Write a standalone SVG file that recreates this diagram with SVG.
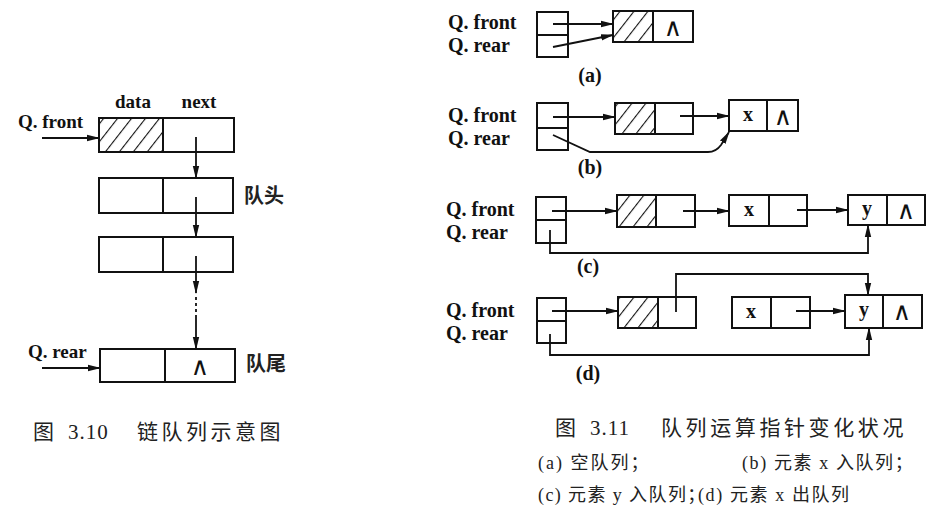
<svg xmlns="http://www.w3.org/2000/svg" width="938" height="525" viewBox="0 0 938 525">
<defs>
<pattern id="hatch" patternUnits="userSpaceOnUse" width="11" height="11" patternTransform="rotate(38)">
<line x1="0" y1="0" x2="0" y2="11" stroke="#111" stroke-width="2.2"/>
</pattern>
<marker id="arr" markerUnits="userSpaceOnUse" markerWidth="13" markerHeight="8" refX="12" refY="4" orient="auto">
<path d="M0,0.8 L13,4 L0,7.2 z" fill="#111"/>
</marker>
<style>
.box{fill:#fff;stroke:#111;stroke-width:2}
.hat{fill:url(#hatch);stroke:#111;stroke-width:2}
.ln{fill:none;stroke:#111;stroke-width:1.8}
.dv{stroke:#111;stroke-width:2}
.lab{font-family:"Liberation Serif",serif;font-weight:bold;fill:#111}
.sym{font-family:"DejaVu Sans",sans-serif;fill:#111}
.cjk{font-family:"Liberation Serif","Noto Sans CJK SC",sans-serif;fill:#222}
</style>
</defs>
<rect width="938" height="525" fill="#fff"/>

<!-- Figure 3.10 -->
<g id="fig310-labels">
<text class="lab" x="133" y="108" font-size="19" text-anchor="middle">data</text>
<text class="lab" x="199" y="108" font-size="19" text-anchor="middle">next</text>
<text class="lab" x="18" y="128" font-size="19">Q. front</text>
<text class="lab" x="28" y="358" font-size="19">Q. rear</text>
<text class="cjk" x="244" y="203" font-size="20" font-weight="bold">队头</text>
<text class="cjk" x="246" y="371" font-size="20" font-weight="bold">队尾</text>
</g>
<g id="l-node1">
<rect class="box" x="99" y="118" width="135" height="34"/>
<rect class="hat" x="99" y="118" width="64" height="34"/>
</g>
<g id="l-node2">
<rect class="box" x="99" y="178" width="134" height="35"/>
<line class="dv" x1="163" y1="178" x2="163" y2="213"/>
</g>
<g id="l-node3">
<rect class="box" x="99" y="237" width="134" height="35"/>
<line class="dv" x1="163" y1="237" x2="163" y2="272"/>
</g>
<g id="l-node4">
<rect class="box" x="100" y="349" width="135" height="33"/>
<line class="dv" x1="165" y1="349" x2="165" y2="382"/>
<text class="sym" x="200" y="375" font-size="25" text-anchor="middle">∧</text>
</g>
<g id="l-connectors">
<line class="ln" x1="42" y1="138" x2="99" y2="138" marker-end="url(#arr)"/>
<line class="ln" x1="42" y1="368" x2="100" y2="368" marker-end="url(#arr)"/>
<line class="ln" x1="196" y1="137" x2="196" y2="178" marker-end="url(#arr)"/>
<line class="ln" x1="196" y1="197" x2="196" y2="237" marker-end="url(#arr)"/>
<line class="ln" x1="196" y1="256" x2="196" y2="293" marker-end="url(#arr)"/>
<line class="ln" x1="196" y1="297" x2="196" y2="318" stroke-dasharray="3,3"/>
<line class="ln" x1="196" y1="318" x2="196" y2="349" marker-end="url(#arr)"/>
</g>
<g id="cap310">
<text class="cjk" x="33" y="439" font-size="21">图</text>
<text class="cjk" x="68" y="439" font-size="21" letter-spacing="1">3.10</text>
<text class="cjk" x="137" y="439" font-size="21" letter-spacing="3.5">链队列示意图</text>
</g>

<!-- Figure 3.11 labels -->
<g id="fig311-labels">
<text class="lab" x="448" y="29" font-size="20">Q. front</text>
<text class="lab" x="448" y="52" font-size="20">Q. rear</text>
<text class="lab" x="590" y="82" font-size="20" text-anchor="middle">(a)</text>
<text class="lab" x="448" y="122" font-size="20">Q. front</text>
<text class="lab" x="448" y="145" font-size="20">Q. rear</text>
<text class="lab" x="590" y="174" font-size="20" text-anchor="middle">(b)</text>
<text class="lab" x="446" y="216" font-size="20">Q. front</text>
<text class="lab" x="446" y="239" font-size="20">Q. rear</text>
<text class="lab" x="588" y="273" font-size="20" text-anchor="middle">(c)</text>
<text class="lab" x="446" y="317" font-size="20">Q. front</text>
<text class="lab" x="446" y="340" font-size="20">Q. rear</text>
<text class="lab" x="588" y="380" font-size="20" text-anchor="middle">(d)</text>
</g>

<!-- (a) -->
<g id="a-ptr">
<rect class="box" x="537" y="12" width="31" height="45"/>
<line class="dv" x1="537" y1="35" x2="568" y2="35"/>
</g>
<g id="a-head">
<rect class="box" x="613" y="11" width="80" height="31"/>
<rect class="hat" x="613" y="11" width="40" height="31"/>
<text class="sym" x="673" y="36" font-size="25" text-anchor="middle">∧</text>
</g>

<!-- (b) -->
<g id="b-ptr">
<rect class="box" x="537" y="103" width="31" height="47"/>
<line class="dv" x1="537" y1="128" x2="568" y2="128"/>
</g>
<g id="b-head">
<rect class="box" x="615" y="103" width="78" height="31"/>
<rect class="hat" x="615" y="103" width="40" height="31"/>
</g>
<g id="b-x">
<rect class="box" x="729" y="100" width="69" height="31"/>
<line class="dv" x1="767" y1="100" x2="767" y2="131"/>
<text class="lab" x="748" y="121" font-size="20" text-anchor="middle">x</text>
<text class="sym" x="783" y="125" font-size="25" text-anchor="middle">∧</text>
</g>

<!-- (c) -->
<g id="c-ptr">
<rect class="box" x="536" y="197" width="30" height="46"/>
<line class="dv" x1="536" y1="220" x2="566" y2="220"/>
</g>
<g id="c-head">
<rect class="box" x="617" y="195" width="78" height="32"/>
<rect class="hat" x="617" y="195" width="39" height="32"/>
</g>
<g id="c-x">
<rect class="box" x="729" y="195" width="78" height="31"/>
<line class="dv" x1="769" y1="195" x2="769" y2="226"/>
<text class="lab" x="749" y="216" font-size="20" text-anchor="middle">x</text>
</g>
<g id="c-y">
<rect class="box" x="848" y="195" width="77" height="30"/>
<line class="dv" x1="887" y1="195" x2="887" y2="225"/>
<text class="lab" x="867" y="215" font-size="20" text-anchor="middle">y</text>
<text class="sym" x="906" y="219" font-size="25" text-anchor="middle">∧</text>
</g>

<!-- (d) -->
<g id="d-ptr">
<rect class="box" x="537" y="298" width="29" height="45"/>
<line class="dv" x1="537" y1="321" x2="566" y2="321"/>
</g>
<g id="d-head">
<rect class="box" x="618" y="297" width="78" height="31"/>
<rect class="hat" x="618" y="297" width="40" height="31"/>
</g>
<g id="d-x">
<rect class="box" x="732" y="297" width="78" height="31"/>
<line class="dv" x1="771" y1="297" x2="771" y2="328"/>
<text class="lab" x="751" y="318" font-size="20" text-anchor="middle">x</text>
</g>
<g id="d-y">
<rect class="box" x="845" y="295" width="77" height="33"/>
<line class="dv" x1="883" y1="295" x2="883" y2="328"/>
<text class="lab" x="864" y="316" font-size="20" text-anchor="middle">y</text>
<text class="sym" x="902" y="320" font-size="25" text-anchor="middle">∧</text>
</g>

<g id="r-connectors">
<line class="ln" x1="553" y1="24" x2="613" y2="24" marker-end="url(#arr)"/>
<line class="ln" x1="553" y1="47" x2="613" y2="35" marker-end="url(#arr)"/>
<line class="ln" x1="553" y1="117" x2="615" y2="117" marker-end="url(#arr)"/>
<line class="ln" x1="680" y1="116" x2="729" y2="116" marker-end="url(#arr)"/>
<path class="ln" d="M553,135 L590,152 L708,152 Q716,152 721,145 L729,132" marker-end="url(#arr)"/>
<line class="ln" x1="552" y1="211" x2="617" y2="211" marker-end="url(#arr)"/>
<line class="ln" x1="683" y1="211" x2="729" y2="211" marker-end="url(#arr)"/>
<line class="ln" x1="797" y1="210" x2="848" y2="210" marker-end="url(#arr)"/>
<path class="ln" d="M550,230 V253 H868 V225" marker-end="url(#arr)"/>
<line class="ln" x1="552" y1="311" x2="618" y2="311" marker-end="url(#arr)"/>
<line class="ln" x1="796" y1="311" x2="845" y2="311" marker-end="url(#arr)"/>
<path class="ln" d="M676,312 V274 H868 V295" marker-end="url(#arr)"/>
<path class="ln" d="M550,334 V355 H869 V328" marker-end="url(#arr)"/>
</g>

<g id="cap311">
<text class="cjk" x="555" y="435" font-size="21">图</text>
<text class="cjk" x="590" y="435" font-size="21" letter-spacing="1">3.11</text>
<text class="cjk" x="661" y="435" font-size="21" letter-spacing="3.6">队列运算指针变化状况</text>
<text class="cjk" x="538" y="469" font-size="18" letter-spacing="2">(a) 空队列；</text>
<text class="cjk" x="742" y="469" font-size="18" letter-spacing="1.6">(b) 元素 x 入队列；</text>
<text class="cjk" x="538" y="501" font-size="18" letter-spacing="1.4">(c) 元素 y 入队列；</text>
<text class="cjk" x="698" y="501" font-size="18" letter-spacing="1.6">(d) 元素 x 出队列</text>
</g>
</svg>
